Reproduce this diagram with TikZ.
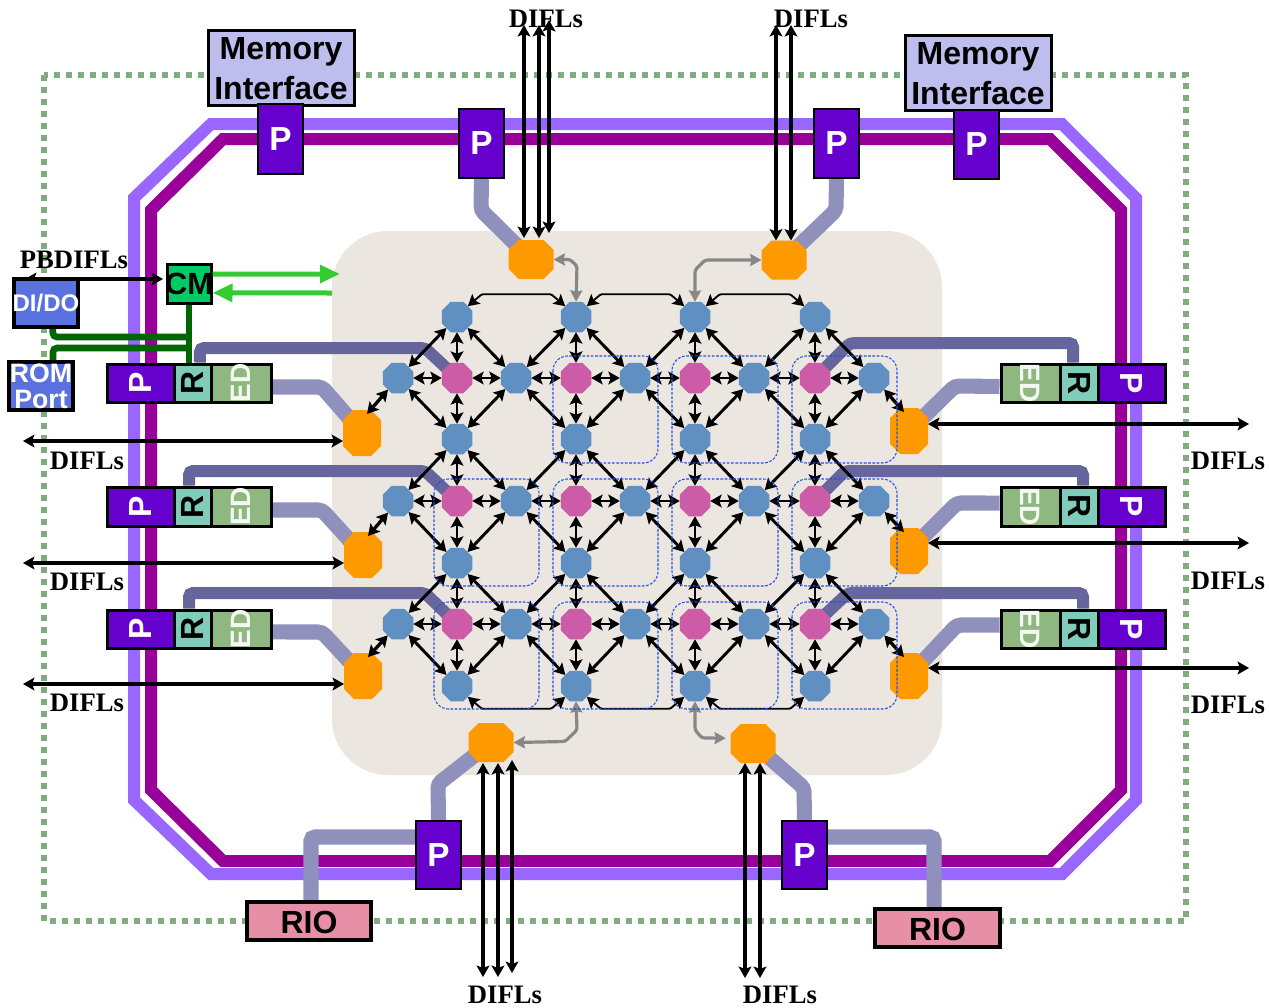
\documentclass[tikz,border=0pt]{standalone}
\usepackage{fontspec}
\usepackage{graphicx}
\setmainfont{Liberation Serif}
\newfontfamily\arialf{Liberation Sans}
\usetikzlibrary{arrows.meta,shapes.geometric,fit,calc}
\pgfdeclarelayer{back}
\pgfdeclarelayer{wire}
\pgfsetlayers{back,wire,main}
\definecolor{bgc}{HTML}{ECE6E1}
\definecolor{ringa}{HTML}{9966FF}
\definecolor{ringb}{HTML}{990099}
\definecolor{dotc}{HTML}{7FAD7F}
\definecolor{bluen}{HTML}{6090C2}
\definecolor{pinkn}{HTML}{CC5CA8}
\definecolor{orangen}{HTML}{FF9900}
\definecolor{pbox}{HTML}{6600CC}
\definecolor{rbox}{HTML}{7FCCBB}
\definecolor{edbox}{HTML}{8FB880}
\definecolor{membox}{HTML}{BDBDEE}
\definecolor{riobox}{HTML}{E68FA6}
\definecolor{iobox}{HTML}{5A72E0}
\definecolor{cmbox}{HTML}{00CC66}
\definecolor{lklight}{HTML}{9090BC}
\definecolor{lkdark}{HTML}{66669C}
\definecolor{wgreen}{HTML}{006600}
\definecolor{agreen}{HTML}{33CC33}
\definecolor{dashc}{HTML}{2050E0}
\newcommand{\rotL}[1]{\rotatebox{90}{#1}}
\newcommand{\rotR}[1]{\rotatebox{-90}{#1}}
\makeatletter
\newdimen\octc \octc=7.5pt
\newdimen\octxa \newdimen\octxb \newdimen\octya \newdimen\octyb
\pgfdeclareshape{octbox}{
  \inheritsavedanchors[from=rectangle]
  \inheritanchorborder[from=rectangle]
  \inheritanchor[from=rectangle]{center}
  \inheritanchor[from=rectangle]{text}
  \inheritanchor[from=rectangle]{north}
  \inheritanchor[from=rectangle]{south}
  \inheritanchor[from=rectangle]{east}
  \inheritanchor[from=rectangle]{west}
  \backgroundpath{
    \southwest \octxa=\pgf@x \octya=\pgf@y
    \northeast \octxb=\pgf@x \octyb=\pgf@y
    \pgfpathmoveto{\pgfqpoint{\dimexpr\octxa+\octc\relax}{\octya}}
    \pgfpathlineto{\pgfqpoint{\dimexpr\octxb-\octc\relax}{\octya}}
    \pgfpathlineto{\pgfqpoint{\octxb}{\dimexpr\octya+\octc\relax}}
    \pgfpathlineto{\pgfqpoint{\octxb}{\dimexpr\octyb-\octc\relax}}
    \pgfpathlineto{\pgfqpoint{\dimexpr\octxb-\octc\relax}{\octyb}}
    \pgfpathlineto{\pgfqpoint{\dimexpr\octxa+\octc\relax}{\octyb}}
    \pgfpathlineto{\pgfqpoint{\octxa}{\dimexpr\octyb-\octc\relax}}
    \pgfpathlineto{\pgfqpoint{\octxa}{\dimexpr\octya+\octc\relax}}
    \pgfpathclose
  }
}
\makeatother
\tikzset{
  x=0.75pt,y=-0.75pt,
  bx/.style={draw=black,line width=2.25pt,inner sep=0pt},
  pb/.style={bx,fill=pbox},
  pbt/.style={bx,line width=1.7pt,fill=pbox},
  rb/.style={bx,fill=rbox},
  edb/.style={bx,fill=edbox},
  memb/.style={bx,fill=membox},
  riob/.style={bx,fill=riobox,line width=2.6pt},
  iob/.style={bx,fill=iobox,line width=2.8pt},
  cmb/.style={bx,fill=cmbox},
  memt/.style={font=\arialf\bfseries\fontsize{24}{29.4}\selectfont,align=center,inner sep=0pt,text=black},
  bigp/.style={text=white,inner sep=0pt,font=\arialf\bfseries\fontsize{25}{25}\selectfont},
  riot/.style={text=black,inner sep=0pt,yshift=-1.2pt,font=\arialf\bfseries\fontsize{24}{24}\selectfont},
  rowt/.style={inner sep=0pt,font=\arialf\bfseries\fontsize{24}{24}\selectfont},
  edt/.style={inner sep=0pt,text=white!90!edbox,font=\arialf\bfseries\fontsize{21}{21}\selectfont},
  oct/.style={regular polygon,regular polygon sides=8,inner sep=0pt,outer sep=0pt,minimum size=24.75pt},
  bnode/.style={oct,fill=bluen},
  pnode/.style={oct,fill=pinkn},
  ov/.style={octbox,fill=orangen,inner sep=0pt,outer sep=0pt,minimum width=28.5pt,minimum height=34.5pt},
  oh/.style={octbox,fill=orangen,inner sep=0pt,outer sep=0pt,minimum width=33.75pt,minimum height=29.25pt},
  da/.style={draw=black,line width=2.2pt,{Stealth[length=8.5pt,width=9.5pt,inset=1.7pt]}-{Stealth[length=8.5pt,width=9.5pt,inset=1.7pt]}},
  dalong/.style={da,line width=2.5pt},
  dathin/.style={da,line width=1.4pt,rounded corners=1pt},
  gy/.style={draw=black!47,line width=2.4pt,rounded corners=2pt,{Stealth[length=8.5pt,width=9pt,inset=1pt]}-{Stealth[length=8.5pt,width=9pt,inset=1pt]}},
  ga/.style={draw=agreen,line width=3.75pt,-{Triangle[length=15pt,width=13pt]}},
  lkl/.style={draw=lklight,line width=11.3pt,rounded corners=3pt},
  lkd/.style={draw=lkdark,line width=9pt,rounded corners=3pt},
  wg/.style={draw=wgreen,line width=5pt,rounded corners=3pt},
  dsh/.style={draw=dashc,line width=0.8pt,rounded corners=11pt,dash pattern=on 2pt off 1.2pt},
  lbl/.style={inner sep=0pt,font=\bfseries\fontsize{20}{20}\selectfont},
}
\begin{document}
\begin{tikzpicture}
\useasboundingbox (0,0) rectangle (1269,1007);
\begin{pgfonlayer}{back}
  \fill[white] (0,0) rectangle (1269,1007);
  \fill[bgc,rounded corners=42pt] (332,231) rectangle (942,775);
  \draw[dotc,line width=4.3pt,dash pattern=on 4.3pt off 4.7pt] (44,75) rectangle (1186,921);
  \draw[ringa,line width=9pt] (211,124) -- (1062,124) -- (1136,198) -- (1136,800) -- (1062,874) -- (211,874) -- (134,800) -- (134,198) -- cycle;
  \draw[ringb,line width=9pt] (223,139) -- (1050,139) -- (1121,210) -- (1121,790) -- (1050,861) -- (223,861) -- (151,790) -- (151,210) -- cycle;
\end{pgfonlayer}

% grid nodes
\foreach \n/\x in {1/457,2/576,3/695,4/815}
  \foreach \r/\y in {A/317,C/439,E/563,G/686}
    \node[bnode] (\r\n) at (\x,\y) {};
\foreach \r/\y in {B/378,D/501,F/624}{
  \foreach \n/\x in {0/398,2/516,4/635,6/754,8/874}
    \node[bnode] (\r\n) at (\x,\y) {};
  \foreach \n/\x in {1/457,3/576,5/695,7/815}
    \node[pnode] (\r\n) at (\x,\y) {};
}
% orange routers
\node[ov] (OL1) at (362,433) {};
\node[ov] (OL2) at (363,555) {};
\node[ov] (OL3) at (363,676) {};
\node[ov] (OR1) at (909,431) {};
\node[ov] (OR2) at (909,551) {};
\node[ov] (OR3) at (909,676) {};
\node[oh] (OT1) at (531,259.5) {};
\node[oh] (OT2) at (784,260) {};
\node[oh] (OB1) at (491,742.5) {};
\node[oh] (OB2) at (753,743.5) {};

% memory interfaces
\node[memb,fit={(208,30) (354,105)}] (MI1) {};
\node[memt,yshift=-0.8pt] (MI1t) at (MI1) {Memory\\Interface};
\node[memb,fit={(905,35) (1051,110)}] (MI2) {};
\node[memt,yshift=-0.8pt] (MI2t) at (MI2) {Memory\\Interface};

% port boxes on the ring
\node[pbt,fit={(258,104) (303,174)}] (PT1) {}; \node[bigp] (PT1t) at (PT1) {P};
\node[pbt,fit={(459,109) (504,178)}] (PT2) {}; \node[bigp] (PT2t) at (PT2) {P};
\node[pbt,fit={(814,109) (859,178)}] (PT3) {}; \node[bigp] (PT3t) at (PT3) {P};
\node[pbt,fit={(954,110) (999,179)}] (PT4) {}; \node[bigp] (PT4t) at (PT4) {P};
\node[pbt,fit={(416,821) (461,889)}] (PB1) {}; \node[bigp] (PB1t) at (PB1) {P};
\node[pbt,fit={(782,821) (827,889)}] (PB2) {}; \node[bigp] (PB2t) at (PB2) {P};

% RIO
\node[riob,fit={(247,902) (371,940)}] (RIO1) {}; \node[riot] (RIO1t) at (RIO1) {RIO};
\node[riob,fit={(875,909) (1000,947)}] (RIO2) {}; \node[riot] (RIO2t) at (RIO2) {RIO};

% side P/R/ED rows
\foreach \i/\a/\b in {1/364/402,2/487/526,3/610/648}{
  \node[pb,fit={(107,\a) (174,\b)}] (LP\i) {};
  \node[rowt,text=white] (LP\i t) at (LP\i) {\rotL{P}};
  \node[rb,fit={(174,\a) (211,\b)}] (LR\i) {};
  \node[rowt,text=black] (LR\i t) at (LR\i) {\rotL{R}};
  \node[edb,fit={(211,\a) (271,\b)}] (LE\i) {};
  \node[edt] (LE\i t) at (LE\i) {\rotL{ED}};
  \node[pb,fit={(1098,\a) (1165,\b)}] (RP\i) {};
  \node[rowt,text=white] (RP\i t) at (RP\i) {\rotR{P}};
  \node[rb,fit={(1060,\a) (1098,\b)}] (RR\i) {};
  \node[rowt,text=black] (RR\i t) at (RR\i) {\rotR{R}};
  \node[edb,fit={(1001,\a) (1060,\b)}] (RE\i) {};
  \node[edt] (RE\i t) at (RE\i) {\rotR{ED}};
}

% CM, DI/DO, ROM
\node[cmb,fit={(167,264) (211,303)}] (CM) {};
\node[font=\arialf\bfseries\fontsize{23}{23}\selectfont,inner sep=0pt] (CMt) at (CM) {CM};
\coordinate (pbl) at (25,279);
\coordinate (pbr) at (163,279);
\draw[dalong] (pbl) -- (pbr);
\node[iob,fit={(14,279) (78,327)}] (DIDO) {};
\node[text=white,font=\arialf\bfseries\fontsize{18}{18}\selectfont,inner sep=0pt] (DIDOt) at (DIDO) {DI/DO};
\node[iob,fit={(9,362) (73,410)}] (ROM) {};
\node[text=white,font=\arialf\bfseries\fontsize{20}{19.5}\selectfont,align=center,inner sep=0pt] (ROMt) at (ROM) {ROM\\Port};

% wires under everything
\begin{pgfonlayer}{wire}
  \draw[lkl] (PT2.south) -- (481,210) -- (OT1.center);
  \draw[lkl] (PT3.south) -- (836,210) -- (OT2.center);
  \draw[lkl] (PB1.north) -- (438,784) -- (OB1.center);
  \draw[lkl] (PB2.north) -- (804,788) -- (OB2.center);
  \draw[lkl] ([yshift=13.5pt]PB1.west) -- (311,837) -- ([xshift=1.5pt]RIO1.north);
  \draw[lkl] ([yshift=13.5pt]PB2.east) -- (934,837) -- ([xshift=-2.6pt]RIO2.north);
  \draw[lkl] ([yshift=-3pt]LE1.east) -- (322,387) -- (OL1.center);
  \draw[lkl] ([yshift=-2.6pt]LE2.east) -- (322,510) -- (OL2.center);
  \draw[lkl] ([yshift=-2.2pt]LE3.east) -- (322,632) -- (OL3.center);
  \draw[lkl] ([yshift=-2.6pt]RE1.west) -- (955,386) -- (OR1.center);
  \draw[lkl] ([yshift=2.6pt]RE2.west) -- (957,503) -- (OR2.center);
  \draw[lkl] ([yshift=3pt]RE3.west) -- (957,625) -- (OR3.center);
  \draw[lkd] ([xshift=5.6pt]LR1.north) -- (200,348) -- (425,348) -- (B1.center);
  \draw[lkd] ([xshift=-2.6pt]LR2.north) -- (189,471) -- (425,471) -- (D1.center);
  \draw[lkd] ([xshift=-2.6pt]LR3.north) -- (189,593) -- (425,593) -- (F1.center);
  \draw[lkd] ([xshift=-4.5pt]RR1.north) -- (1073,343) -- (850,343) -- (B7.center);
  \draw[lkd] ([xshift=3pt]RR2.north) -- (1083,471) -- (845,471) -- (D7.center);
  \draw[lkd] ([xshift=3pt]RR3.north) -- (1083,593) -- (848,593) -- (F7.center);
  \draw[wg] ([xshift=5pt]DIDO.south) -- (53,337) -- (189,337);
  \draw[wg] ([xshift=9pt]ROM.north) -- (53,348) -- (189,348);
  \draw[wg] (CM.south) -- (CM.south |- LR1.north);
\end{pgfonlayer}

% CM green arrows
\coordinate (g1) at (340,274);
\coordinate (g2) at (332,293);
\draw[ga] ([yshift=7pt]CM.east) -- (g1);
\draw[ga] (g2) -- ([yshift=-7pt]CM.east);

% grid arrows
\foreach \u/\m/\l in {A/B/C,C/D/E,E/F/G}{
  \foreach \i/\j in {0/1,2/1,2/2,4/2,4/3,6/3,6/4,8/4}{
    \draw[da] (\m\i) -- (\u\j);
    \draw[da] (\m\i) -- (\l\j);
  }
  \foreach \i/\j in {1/1,3/2,5/3,7/4}{
    \draw[da] (\u\j) -- (\m\i);
    \draw[da] (\m\i) -- (\l\j);
  }
  \foreach \i/\j in {0/1,1/2,2/3,3/4,4/5,5/6,6/7,7/8}
    \draw[da] (\m\i) -- (\m\j);
}
\foreach \a/\b in {1/2,2/3,3/4}{
  \draw[dathin] (A\a.45) -- ++(14,-12) -- ($(A\b.135)+(-14,-12)$) -- (A\b.135);
  \draw[dathin] (G\a.-45) -- ++(14,12) -- ($(G\b.-135)+(-14,12)$) -- (G\b.-135);
}
% router to grid
\draw[dalong] ([xshift=3.75pt,yshift=-3pt]OL1.north) -- (B0);
\draw[dalong] ([xshift=3.75pt,yshift=-3pt]OL2.north) -- (D0);
\draw[dalong] ([xshift=3.75pt,yshift=-3pt]OL3.north) -- (F0);
\draw[dalong] ([xshift=-3.75pt,yshift=-3pt]OR1.north) -- (B8);
\draw[dalong] ([xshift=-3.75pt,yshift=-3pt]OR2.north) -- (D8);
\draw[dalong] ([xshift=-3.75pt,yshift=-3pt]OR3.north) -- (F8);
% grey
\draw[gy] (A2.north) -- (577,266) -- (570,259.5) -- (OT1.east);
\draw[gy] (A3.north) -- (695,270) -- (705,260) -- (OT2.west);
\draw[gy] (G2.south) -- (577,730) -- (565,741.5) -- (OB1.east);
\draw[gy] (G3.south) -- (695,730) -- (702,738) -- ([xshift=-3.5pt,yshift=4pt]OB2.west);

% external DIFL arrows
\foreach \n/\y in {1/441,2/563,3/684}{
  \coordinate (lf\n) at (23,\y);
  \draw[dalong] (lf\n) -- (lf\n -| OL\n.west);
}
\foreach \n/\y in {1/424,2/543,3/668}{
  \coordinate (rf\n) at (1249,\y);
  \draw[dalong] (rf\n) -- (rf\n -| OR\n.east);
}
\foreach \n/\x/\ya/\yb in {1/524/25/238,2/539/25/238,3/549/20/233}{
  \coordinate (ta\n) at (\x,\ya);
  \coordinate (tc\n) at (\x,\yb);
  \draw[dalong] (ta\n) -- (tc\n);
}
\foreach \n/\x in {1/776,2/791}{
  \coordinate (tb\n) at (\x,25);
  \draw[dalong] (tb\n) -- (tb\n |- OT2.north);
}
\foreach \n/\x/\ya/\yb in {1/483/977/763,2/498/977/763,3/512/973/760}{
  \coordinate (ba\n) at (\x,\ya);
  \coordinate (bc\n) at (\x,\yb);
  \draw[dalong] (ba\n) -- (bc\n);
}
\foreach \n/\x in {1/745,2/760}{
  \coordinate (bb\n) at (\x,978);
  \draw[dalong] (bb\n) -- (bb\n |- OB2.south);
}

% dashed tile outlines
\draw[dsh] (553,356) rectangle (658,463);
\draw[dsh] (672,356) rectangle (778,463);
\draw[dsh] (792,356) rectangle (897,463);
\foreach \a/\b in {479/586,602/709}{
  \draw[dsh] (434,\a) rectangle (539,\b);
  \draw[dsh] (553,\a) rectangle (658,\b);
  \draw[dsh] (672,\a) rectangle (778,\b);
  \draw[dsh] (792,\a) rectangle (897,\b);
}

% labels
\node[lbl] (t1) at (546,19) {DIFLs};
\node[lbl] (t2) at (811,19) {DIFLs};
\node[lbl] (t3) at (505,995) {DIFLs};
\node[lbl] (t4) at (780,995) {DIFLs};
\node[lbl] (t5) at (87,461) {DIFLs};
\node[lbl] (t6) at (87,582) {DIFLs};
\node[lbl] (t7) at (87,703) {DIFLs};
\node[lbl] (t8) at (1228,461) {DIFLs};
\node[lbl] (t9) at (1228,581) {DIFLs};
\node[lbl] (t10) at (1228,705) {DIFLs};
\node[lbl] (t11) at (74,260) {PBDIFLs};
\end{tikzpicture}
\end{document}
